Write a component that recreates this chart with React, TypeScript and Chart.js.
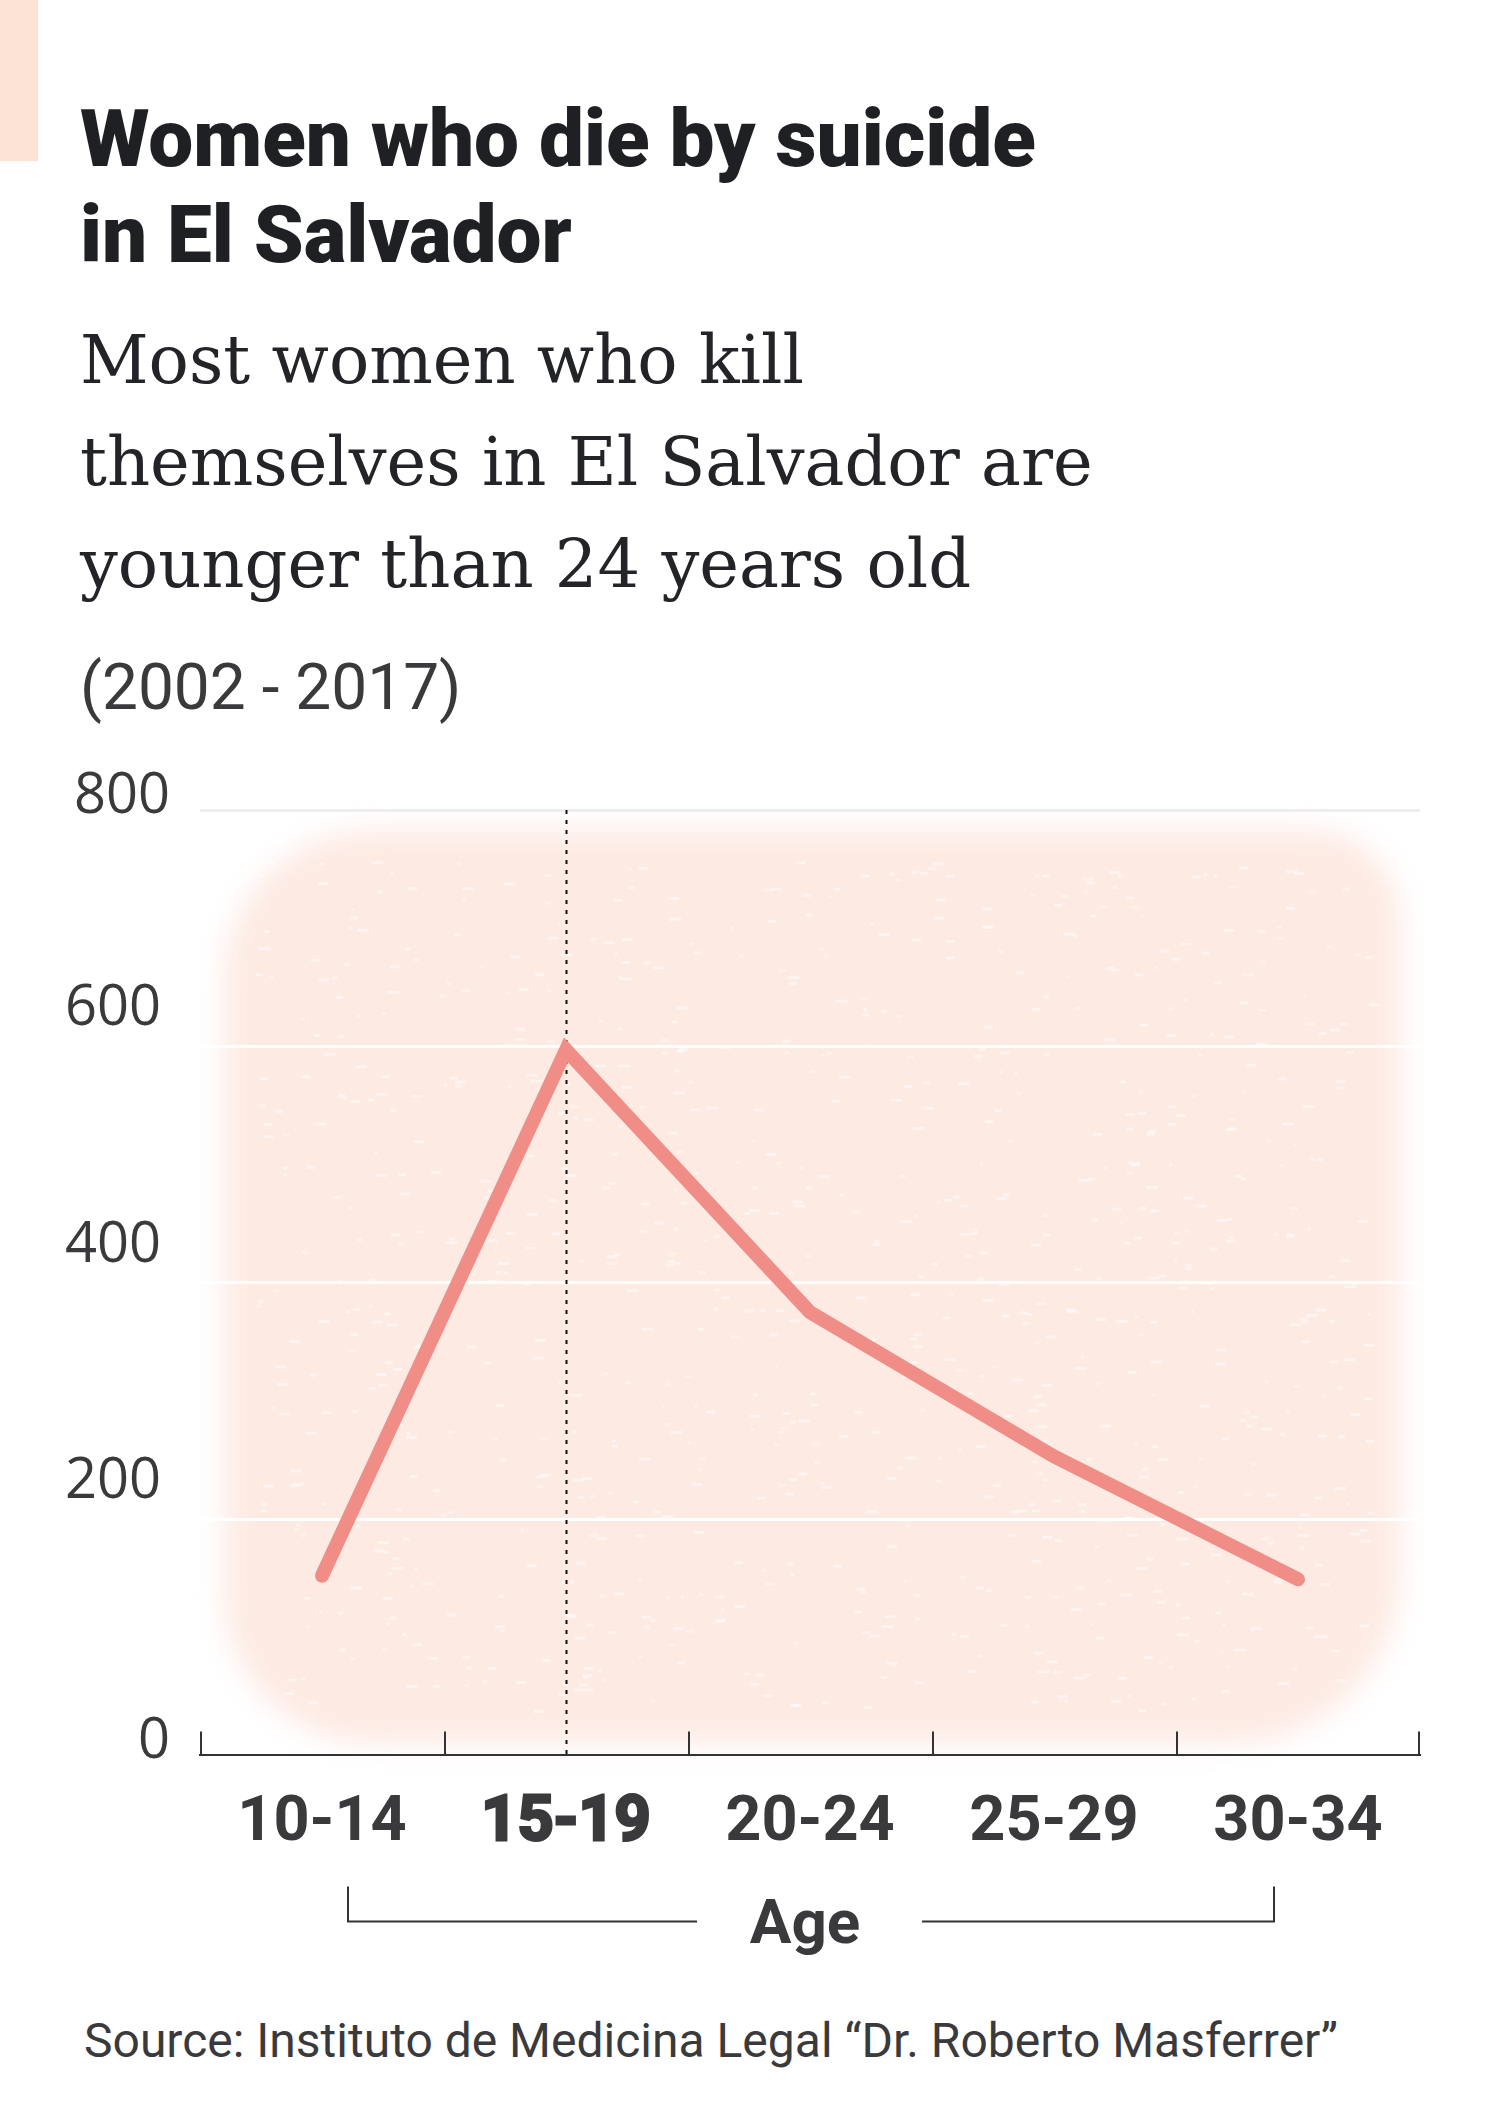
import React, { useEffect, useRef } from 'react';
import { Chart, registerables } from 'chart.js';

Chart.register(...registerables);

// ---- data ----
const categories = ['10-14', '15-19', '20-24', '25-29', '30-34'];
const deaths = [152, 597, 375, 253, 149];
const yTickValues = [0, 200, 400, 600, 800];
const highlightCategory = '15-19';

// ---- text ----
const titleLines = ['Women who die by suicide', 'in El Salvador'];
const subtitleLines = ['Most women who kill', 'themselves in El Salvador are', 'younger than 24 years old'];
const periodText = '(2002 - 2017)';
const axisTitle = 'Age';
const sourceText = 'Source: Instituto de Medicina Legal \u201cDr. Roberto Masferrer\u201d';

const TEXT_DARK = '#3a3a3c';
const LINE_COLOR = '#ef8d86';

const CANVAS_TOP = 760;
const CANVAS_H = 1240;

const blobPlugin = {
  id: 'blob',
  beforeDraw(chart: any) {
    const { ctx, chartArea: ca } = chart;
    ctx.save();
    const l = ca.left + 24, r = ca.right - 20, t = ca.top + 20, b = ca.bottom - 12;
    ctx.filter = 'blur(14px)';
    ctx.fillStyle = '#fdeae3';
    ctx.beginPath();
    (ctx as any).roundRect(l, t, r - l, b - t, [150, 90, 170, 150]);
    ctx.fill();
    ctx.filter = 'none';
    // light speckle texture (decorative)
    let seed = 12345;
    const rnd = () => { seed = (seed * 1103515245 + 12345) % 2147483648; return seed / 2147483648; };
    ctx.fillStyle = 'rgba(255,255,255,0.45)';
    for (let i = 0; i < 900; i++) {
      const x = l + 30 + rnd() * (r - l - 60);
      const y = t + 30 + rnd() * (b - t - 60);
      ctx.fillRect(x, y, 3 + rnd() * 9, 3);
    }
    ctx.restore();
  },
};

const guidePlugin = {
  id: 'guide',
  beforeDatasetsDraw(chart: any) {
    const { ctx, chartArea: ca, scales } = chart;
    const x = scales.x.getPixelForValue(categories.indexOf(highlightCategory));
    ctx.save();
    ctx.strokeStyle = '#111';
    ctx.lineWidth = 2;
    ctx.setLineDash([4, 6]);
    ctx.beginPath();
    ctx.moveTo(Math.round(x) + 0.5, ca.top);
    ctx.lineTo(Math.round(x) + 0.5, ca.bottom);
    ctx.stroke();
    ctx.restore();
  },
};

const decorPlugin = {
  id: 'decor',
  afterDraw(chart: any) {
    const { ctx, chartArea: ca, scales } = chart;
    const y = scales.y;
    ctx.save();
    // y tick labels
    ctx.font = '56px "Open Sans", "Noto Sans", sans-serif';
    ctx.fillStyle = TEXT_DARK;
    ctx.textAlign = 'right';
    ctx.textBaseline = 'alphabetic';
    yTickValues.forEach((v) => {
      const py = y.getPixelForValue(v);
      const edge = v === y.min || v === y.max;
      const right = edge ? ca.left - 30 : ca.left - 39;
      const base = edge ? py + 3 : py - 21;
      ctx.fillText(String(v), right, base);
    });
    // upward ticks at category boundaries
    ctx.strokeStyle = '#333';
    ctx.lineWidth = 2;
    const n = categories.length;
    for (let i = 0; i <= n; i++) {
      const px = Math.round(ca.left + (i * ca.width) / n) + (i === n ? -1 : 1);
      ctx.beginPath();
      ctx.moveTo(px, ca.bottom);
      ctx.lineTo(px, ca.bottom - 24);
      ctx.stroke();
    }
    // Age bracket
    const by = ca.bottom + 166;
    const top = ca.bottom + 131;
    const mid = (ca.left + ca.right) / 2;
    ctx.lineWidth = 2;
    ctx.beginPath();
    ctx.moveTo(ca.left + 148, top);
    ctx.lineTo(ca.left + 148, by);
    ctx.lineTo(ca.left + 497, by);
    ctx.moveTo(ca.left + 722, by);
    ctx.lineTo(ca.left + 1074, by);
    ctx.lineTo(ca.left + 1074, top);
    ctx.stroke();
    ctx.font = 'bold 62px Roboto, "Noto Sans", sans-serif';
    ctx.textAlign = 'center';
    ctx.fillStyle = TEXT_DARK;
    ctx.fillText(axisTitle, mid - 5, ca.bottom + 188);
    ctx.restore();
  },
};

function LineChart() {
  const ref = useRef<HTMLCanvasElement | null>(null);
  useEffect(() => {
    if (!ref.current) return;
    const chart = new Chart(ref.current, {
      type: 'line',
      data: {
        labels: categories,
        datasets: [
          {
            data: deaths,
            borderColor: LINE_COLOR,
            borderWidth: 14,
            borderCapStyle: 'round',
            borderJoinStyle: 'miter',
            pointRadius: 0,
            pointHoverRadius: 0,
            tension: 0,
            fill: false,
          },
        ],
      },
      options: {
        responsive: false,
        animation: false,
        devicePixelRatio: 1,
        layout: { padding: { left: 200, right: 80, top: 50, bottom: 107 } },
        plugins: { legend: { display: false }, tooltip: { enabled: false } },
        scales: {
          x: {
            type: 'category',
            offset: true,
            grid: { display: false, drawTicks: false },
            border: { display: true, color: '#333', width: 2 },
            ticks: {
              padding: 31,
              color: TEXT_DARK,
              font: () => ({
                family: 'Roboto',
                size: 63,
                weight: 'bold',
              }),
              textStrokeColor: TEXT_DARK,
              textStrokeWidth: (c: any) => (categories[c.index] === highlightCategory ? 3 : 0),
            },
          },
          y: {
            min: 0,
            max: 800,
            ticks: { stepSize: 200, display: false },
            border: { display: false },
            grid: {
              drawTicks: false,
              lineWidth: 3,
              color: (c: any) =>
                c.tick && c.tick.value === 800
                  ? '#eeeeee'
                  : c.tick && c.tick.value === 0
                  ? 'rgba(0,0,0,0)'
                  : '#ffffff',
            },
          },
        },
      },
      plugins: [blobPlugin, guidePlugin, decorPlugin],
    } as any);
    return () => chart.destroy();
  }, []);
  return (
    <canvas
      ref={ref}
      width={1500}
      height={CANVAS_H}
      style={{ position: 'absolute', left: 0, top: CANVAS_TOP, width: 1500, height: CANVAS_H }}
    />
  );
}

export default function App() {
  return (
    <div style={{ position: 'absolute', left: 0, top: 0, width: 1500, height: 2124, background: '#fff', overflow: 'hidden' }}>
      <div style={{ position: 'absolute', left: 0, top: 0, width: 38, height: 161, background: '#fde2d6' }} />
      <div
        style={{
          position: 'absolute', left: 80, top: 91, fontFamily: 'Roboto, sans-serif', fontWeight: 900,
          fontSize: 80, lineHeight: '96px', color: '#1f2023', whiteSpace: 'nowrap',
        }}
      >
        {titleLines.map((t) => (<div key={t}>{t}</div>))}
      </div>
      <div
        style={{
          position: 'absolute', left: 80, top: 309, fontFamily: '"DejaVu Serif", serif', fontWeight: 400,
          fontSize: 67, lineHeight: '102px', color: '#232427', whiteSpace: 'nowrap',
        }}
      >
        {subtitleLines.map((t) => (<div key={t}>{t}</div>))}
      </div>
      <div
        style={{
          position: 'absolute', left: 80, top: 652, fontFamily: 'Roboto, sans-serif', fontSize: 64,
          lineHeight: '72px', color: TEXT_DARK, whiteSpace: 'nowrap',
        }}
      >
        {periodText}
      </div>
      <LineChart />
      <div
        style={{
          position: 'absolute', left: 84, top: 2013, fontFamily: 'Roboto, sans-serif', fontSize: 48,
          lineHeight: '56px', color: TEXT_DARK, whiteSpace: 'nowrap',
        }}
      >
        {sourceText}
      </div>
    </div>
  );
}
